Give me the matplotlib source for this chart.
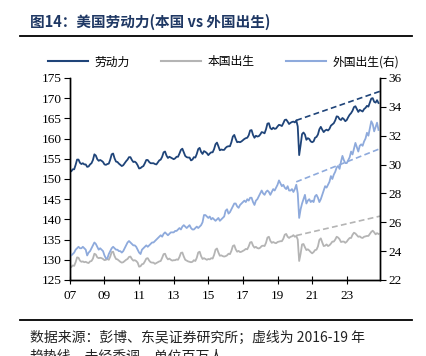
import numpy as np
import matplotlib
matplotlib.use("Agg")
import matplotlib.pyplot as plt
from matplotlib.lines import Line2D

# 月度数据, 2007-01 起 (百万人)
labor = [
    152.0, 151.9, 152.4, 152.4, 153.5, 154.8, 154.8, 154.0, 153.7, 153.9, 153.6, 153.6,
    153.0, 153.1, 153.6, 153.9, 154.7, 156.1, 155.8, 154.9, 154.5, 154.7, 154.5, 154.2,
    153.6, 153.5, 153.7, 153.8, 154.8, 156.1, 156.3, 155.1, 154.3, 154.2, 153.8, 153.5,
    153.2, 153.4, 153.9, 154.4, 154.8, 155.4, 155.4, 154.7, 154.2, 154.3, 154.0, 153.4,
    152.6, 152.7, 153.0, 153.2, 153.9, 154.7, 154.7, 154.2, 153.9, 153.9, 153.9, 153.7,
    153.6, 154.1, 154.6, 154.8, 155.5, 156.6, 156.8, 155.8, 155.2, 155.5, 155.3, 155.1,
    154.9, 155.1, 155.5, 155.5, 156.3, 157.2, 157.5, 156.6, 155.7, 155.4, 155.3, 155.3,
    154.6, 154.8, 155.4, 155.3, 156.2, 157.4, 157.7, 156.7, 156.2, 156.9, 156.7, 156.4,
    155.9, 156.3, 156.6, 156.6, 157.4, 158.6, 159.0, 158.1, 157.1, 157.3, 157.2, 157.2,
    157.7, 158.0, 158.1, 158.1, 159.1, 160.5, 160.9, 159.9, 159.1, 159.2, 159.1, 159.3,
    159.6, 159.9, 160.1, 160.2, 160.8, 162.0, 162.1, 160.9, 160.2, 160.7, 160.5, 160.6,
    161.0, 161.6, 161.5, 161.3, 162.3, 163.7, 163.8, 162.6, 162.3, 162.7, 162.4, 162.5,
    163.0, 163.4, 163.3, 163.1, 163.8, 164.6, 164.7, 164.2, 163.6, 163.9, 164.1, 164.2,
    164.0, 164.5, 163.0, 155.9, 158.4, 161.1, 161.5, 161.0, 159.7, 160.1, 159.9, 159.3,
    159.1, 159.3, 160.2, 160.4, 161.0, 162.3, 162.9, 162.2, 161.6, 162.0, 162.2, 162.0,
    162.4, 163.2, 163.5, 163.8, 164.5, 165.5, 165.4, 164.8, 164.6, 165.1, 164.8, 164.3,
    164.6, 165.3, 165.9, 166.3, 166.9, 167.8, 168.0, 167.3, 166.6, 167.1, 166.9, 166.7,
    167.3, 167.6, 168.1, 167.9, 168.9, 169.9, 170.0, 169.1, 168.9, 169.5, 168.8,
]

native = [
    128.3, 128.2, 128.6, 128.5, 129.4, 130.6, 130.5, 129.8, 129.5, 129.6, 129.4, 129.5,
    129.3, 129.2, 129.6, 129.7, 130.3, 131.5, 131.3, 130.6, 130.4, 130.5, 130.4, 130.2,
    129.9, 130.0, 130.2, 130.0, 130.8, 131.9, 132.0, 130.9, 130.2, 130.1, 129.8, 129.5,
    129.3, 129.4, 129.7, 130.0, 130.2, 130.7, 130.8, 130.2, 129.8, 129.9, 129.7, 129.3,
    128.3, 128.4, 128.9, 129.0, 129.6, 130.3, 130.4, 129.8, 129.4, 129.3, 129.3, 129.0,
    129.2, 129.4, 129.6, 129.7, 130.5, 131.4, 131.5, 130.6, 130.1, 130.3, 130.0, 129.8,
    129.9, 129.9, 130.1, 130.0, 130.7, 131.7, 131.8, 130.8, 130.0, 129.8, 129.6, 129.5,
    129.4, 129.5, 129.9, 129.7, 130.5, 131.8, 132.0, 130.9, 130.2, 130.4, 130.2, 130.0,
    130.2, 130.1, 130.4, 130.3, 131.2, 132.5, 132.8, 131.8, 131.0, 131.1, 130.9, 130.8,
    130.9, 131.1, 131.5, 131.4, 132.2, 133.4, 133.6, 132.6, 132.0, 132.2, 131.9, 132.0,
    132.2, 132.4, 132.7, 132.6, 133.3, 134.3, 134.4, 133.5, 133.0, 133.2, 132.9, 132.8,
    133.0, 133.4, 133.5, 133.4, 134.2, 135.5, 135.7, 134.7, 134.2, 134.4, 134.2, 134.1,
    134.4, 134.5, 134.6, 134.6, 135.2, 136.2, 136.4, 135.7, 135.4, 135.7, 135.8, 136.1,
    135.7, 135.9, 135.0, 129.7, 131.5, 133.8, 133.9, 133.1, 132.4, 132.6, 132.3, 131.9,
    131.6, 131.9, 132.4, 132.5, 133.3, 134.9, 135.3, 134.3, 133.4, 133.5, 133.8, 133.4,
    133.6, 134.0, 134.5, 134.5, 135.0, 135.7, 135.5, 135.1, 134.4, 134.5, 134.5, 134.2,
    134.5, 135.0, 135.4, 135.4, 136.2, 136.7, 136.5, 136.1, 135.7, 135.8, 135.5, 135.4,
    135.7, 135.8, 135.9, 135.9, 136.4, 136.9, 137.2, 136.8, 136.3, 136.6, 136.4,
]

foreign = [
    23.7, 23.7, 23.8, 23.9, 24.1, 24.2, 24.3, 24.2, 24.2, 24.3, 24.2, 24.1,
    23.7, 23.9, 24.0, 24.2, 24.4, 24.6, 24.5, 24.3, 24.1, 24.2, 24.1, 24.0,
    23.7, 23.5, 23.5, 23.8, 24.0, 24.2, 24.3, 24.2, 24.1, 24.1, 24.0, 24.0,
    23.9, 24.0, 24.2, 24.4, 24.6, 24.7, 24.6, 24.5, 24.4, 24.4, 24.3, 24.1,
    23.9, 23.8, 24.1, 24.2, 24.3, 24.4, 24.3, 24.4, 24.5, 24.6, 24.6, 24.7,
    24.8, 24.9, 25.0, 25.1, 25.0, 25.2, 25.3, 25.2, 25.1, 25.2, 25.3, 25.3,
    25.3, 25.4, 25.4, 25.5, 25.6, 25.5, 25.7, 25.8, 25.7, 25.6, 25.7, 25.8,
    25.6, 25.5, 25.5, 25.6, 25.7, 25.6, 25.7, 25.8, 26.0, 26.5, 26.5, 26.4,
    26.3, 26.4, 26.2, 26.3, 26.2, 26.1, 26.2, 26.3, 26.1, 26.2, 26.3, 26.4,
    26.8, 26.9, 26.6, 26.7, 26.9, 27.1, 27.3, 27.3, 27.1, 27.0, 27.2, 27.3,
    27.4, 27.5, 27.4, 27.6, 27.5, 27.7, 27.7, 27.4, 27.2, 27.5, 27.6, 27.8,
    28.0, 28.2, 28.0, 27.9, 28.1, 28.2, 28.1, 27.9, 28.1, 28.3, 28.2, 28.4,
    28.6, 28.9, 28.7, 28.5, 28.6, 28.4, 28.3, 28.5, 28.2, 28.2, 28.3, 28.1,
    28.3, 28.6, 28.0, 26.3, 26.9, 27.3, 27.6, 27.9, 27.3, 27.5, 27.6, 27.4,
    27.5, 27.4, 27.8, 27.9, 27.7, 27.4, 27.6, 27.9, 28.2, 28.5, 28.4, 28.6,
    28.8, 29.2, 29.0, 29.3, 29.5, 29.8, 29.9, 29.7, 30.2, 30.6, 30.3, 30.1,
    30.1, 30.3, 30.5, 30.9, 30.7, 31.1, 31.5, 31.2, 30.9, 31.3, 31.4, 31.3,
    31.6, 31.8, 32.2, 32.0, 32.5, 33.0, 32.8, 32.3, 32.6, 32.9, 32.4,
]

# 2016-19 趋势线 (起点 2020 年初, 终点图末)
trend_x = [2020.08, 2024.92]
labor_trend = [164.5, 171.7]
native_trend = [136.0, 140.8]
foreign_trend = [28.8, 31.1]

xtick_years = [2007, 2009, 2011, 2013, 2015, 2017, 2019, 2021, 2023]
xtick_labels = ["07", "09", "11", "13", "15", "17", "19", "21", "23"]

c_labor = "#1f4479"
c_native = "#b4b4b4"
c_foreign = "#8eaadc"

cjk = ["Noto Sans CJK SC", "DejaVu Sans"]
serif = "Liberation Serif"

x = 2007 + np.arange(len(labor)) / 12

fig = plt.figure(figsize=(4.26, 3.56), dpi=100)
ax = fig.add_axes([0.164, 0.2135, 0.728, 0.5675])
ax2 = ax.twinx()

ax.plot(x, labor, color=c_labor, lw=1.3)
ax.plot(x, native, color=c_native, lw=1.3)
ax2.plot(x, foreign, color=c_foreign, lw=1.3)
ax.plot(trend_x, labor_trend, color=c_labor, lw=1.2, ls=(0, (3.5, 2)))
ax.plot(trend_x, native_trend, color=c_native, lw=1.2, ls=(0, (3.5, 2)))
ax2.plot(trend_x, foreign_trend, color=c_foreign, lw=1.2, ls=(0, (3.5, 2)))

ax.set_xlim(2007, 2024.92)
ax.set_ylim(125, 175)
ax2.set_ylim(22, 36)
ax.set_yticks(np.arange(125, 176, 5))
ax2.set_yticks(np.arange(22, 37, 2))
ax.set_xticks(xtick_years)
ax.set_xticklabels(xtick_labels)

for a in (ax, ax2):
    a.spines["top"].set_visible(False)
    for s in a.spines.values():
        s.set_linewidth(1.0)
    for lab in a.get_xticklabels() + a.get_yticklabels():
        lab.set_fontfamily(serif)
        lab.set_fontsize(9.5)
ax.tick_params(axis="y", direction="out", length=4, pad=2)
ax2.tick_params(axis="y", direction="out", length=4, pad=2)
ax.tick_params(axis="x", direction="inout", length=6, pad=4)

handles = [
    Line2D([], [], color=c_labor, lw=1.5),
    Line2D([], [], color=c_native, lw=1.5),
    Line2D([], [], color=c_foreign, lw=1.5),
]
fig.legend(handles, ["劳动力", "本国出生", "外国出生(右)"], loc="center",
           bbox_to_anchor=(0.525, 0.826), ncol=3, frameon=False,
           prop={"family": cjk, "size": 8.5}, handlelength=3.4,
           columnspacing=2.6, handletextpad=0.6)

fig.text(0.07, 0.938, "图14：美国劳动力(本国 vs 外国出生)", family=cjk,
         fontsize=10.5, fontweight="bold", color="#1f3864", va="center")
fig.add_artist(Line2D([0.047, 0.967], [0.898, 0.898], color="black", lw=1.3))
fig.add_artist(Line2D([0.047, 0.967], [0.101, 0.101], color="black", lw=1.3))
fig.text(0.07, 0.052, "数据来源：彭博、东吴证券研究所；虚线为 2016-19 年",
         family=cjk, fontsize=10, color="#222222", va="center")
fig.text(0.07, 0.0, "趋势线，未经季调，单位百万人",
         family=cjk, fontsize=10, color="#222222", va="center")

fig.savefig("out.png", dpi=100)
